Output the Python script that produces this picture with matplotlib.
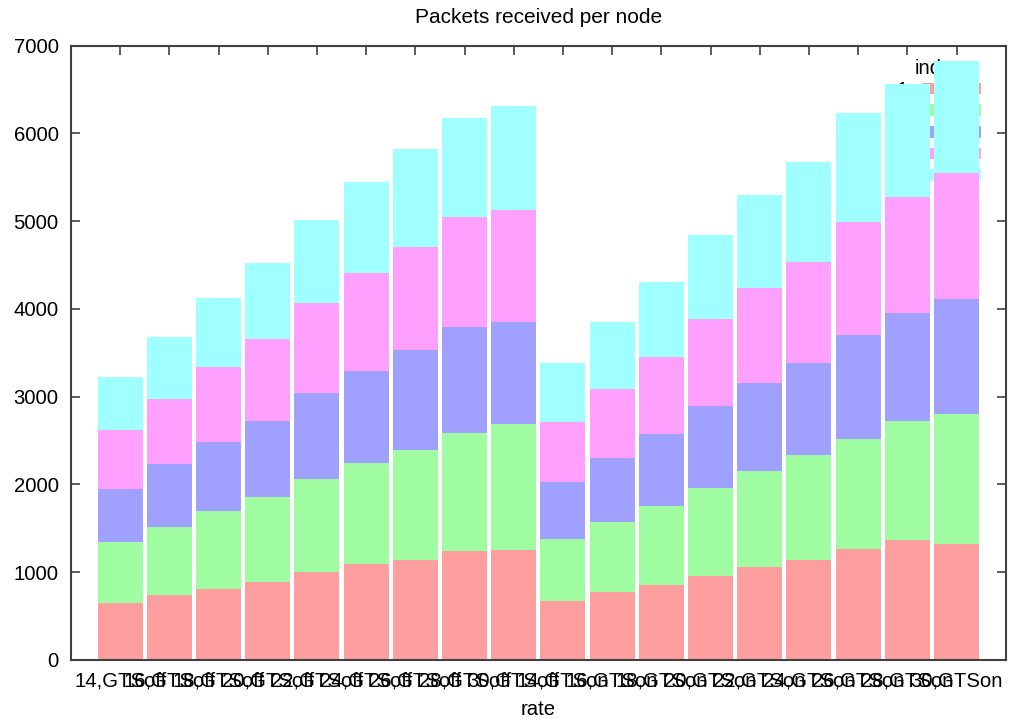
import matplotlib
matplotlib.use("Agg")
import matplotlib.pyplot as plt
import numpy as np

plt.rcParams['font.family'] = ['Liberation Sans', 'DejaVu Sans']

categories = ["14,GTSoff", "16,GTSoff", "18,GTSoff", "20,GTSoff", "22,GTSoff",
              "24,GTSoff", "26,GTSoff", "28,GTSoff", "30,GTSoff",
              "14,GTSon", "16,GTSon", "18,GTSon", "20,GTSon", "22,GTSon",
              "24,GTSon", "26,GTSon", "28,GTSon", "30,GTSon"]

s1 = [653, 737, 812, 892, 1006, 1090, 1140, 1239, 1257,
      672, 771, 855, 961, 1056, 1140, 1265, 1367, 1322]
s2 = [688, 782, 882, 969, 1060, 1158, 1249, 1348, 1429,
      703, 798, 903, 999, 1094, 1193, 1253, 1356, 1481]
s3 = [611, 714, 793, 866, 980, 1045, 1140, 1207, 1162,
      653, 736, 817, 931, 1010, 1048, 1185, 1231, 1310]
s4 = [669, 741, 852, 934, 1018, 1112, 1173, 1257, 1283,
      689, 786, 881, 991, 1075, 1154, 1288, 1322, 1436]
s5 = [607, 706, 782, 866, 953, 1042, 1117, 1125, 1178,
      671, 764, 855, 964, 1064, 1140, 1242, 1287, 1276]

series_labels = ["1", "2", "3", "4", "5"]
colors = ["#ff9e9e", "#a0fca0", "#a0a0ff", "#ffa0ff", "#a0ffff"]

fig = plt.figure(figsize=(10.13, 7.24), dpi=100)
ax = fig.add_axes([0.0701, 0.0884, 0.9227, 0.8485])

x = np.arange(len(categories))
bottom = np.zeros(len(categories))
for vals, lab, col in zip([s1, s2, s3, s4, s5], series_labels, colors):
    ax.bar(x, vals, width=0.915, bottom=bottom, color=col, label=lab,
           zorder=2, linewidth=0)
    bottom += np.array(vals)

ax.set_xlim(-1, 18)
ax.set_ylim(0, 7000)
ax.set_yticks(np.arange(0, 7001, 1000))
ax.set_xticks(x)
ax.set_xticklabels(categories)

for sp in ax.spines.values():
    sp.set_color('#404040')
    sp.set_linewidth(1.5)
    sp.set_zorder(3)

ax.tick_params(axis='both', direction='in', length=6.5, width=1.2,
               color='#404040', top=True, right=True, labelsize=14.6,
               labelcolor='#000000')
ax.tick_params(axis='y', pad=9)
ax.tick_params(axis='x', pad=8)

leg = ax.legend(title="index", loc='upper right',
                bbox_to_anchor=(0.9736, 0.978), frameon=False,
                markerfirst=False, fontsize=14.6, title_fontsize=14.6,
                handlelength=2.9, handleheight=0.5, labelspacing=0.13,
                borderpad=0, handletextpad=0.7, borderaxespad=0)
leg.set_zorder(1)

fig.text(538.3 / 1013, 1 - 23 / 724, "Packets received per node",
         ha='center', va='baseline', fontsize=15)
fig.text(538.3 / 1013, 1 - 715 / 724, "rate",
         ha='center', va='baseline', fontsize=14.6)

fig.savefig("out.png", dpi=100)
